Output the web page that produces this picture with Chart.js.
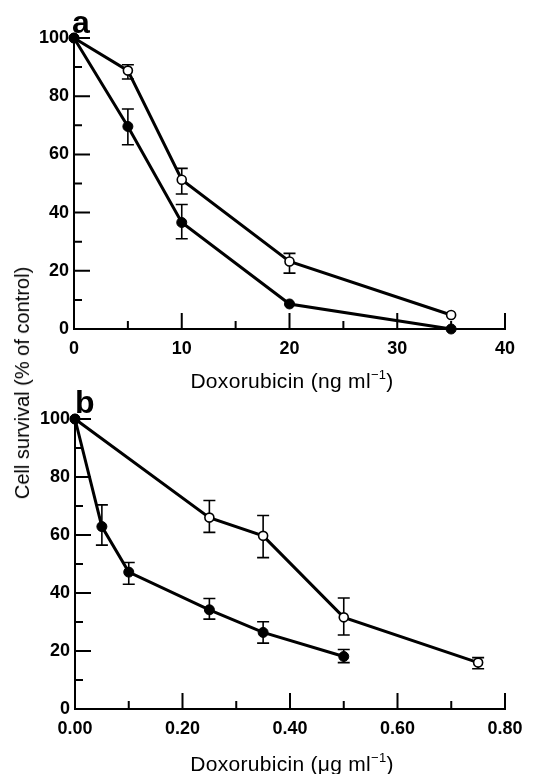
<!DOCTYPE html>
<html>
<head>
<meta charset="utf-8">
<script src="https://cdn.jsdelivr.net/npm/chart.js@4/dist/chart.umd.min.js"></script>
<style>
  html, body { margin: 0; padding: 0; background: #fff; }
  body { width: 545px; height: 774px; position: relative; overflow: hidden; font-family: "Liberation Sans", Arial, sans-serif; color: #000; }
  .panel { position: absolute; left: 0; width: 545px; }
  .lbl { position: absolute; white-space: nowrap; line-height: 1; }
  .letter { font-weight: bold; font-size: 32px; }
  .xt { font-size: 21px; letter-spacing: 0.3px; transform: translateX(-50%); }
  .xt sup { font-size: 13px; vertical-align: 9px; line-height: 0; }
  .yt { font-size: 20px; left: 22px; top: 383px; transform: translate(-50%, -50%) rotate(-90deg); }
</style>
</head>
<body>
<div class="panel" style="top:0;height:390px;"><canvas id="cA" width="545" height="390"></canvas></div>
<div class="panel" style="top:390px;height:384px;"><canvas id="cB" width="545" height="384"></canvas></div>
<div class="lbl letter" style="left:72px;top:6px;">a</div>
<div class="lbl letter" style="left:75px;top:386px;">b</div>
<div class="lbl xt" style="left:292px;top:370px;">Doxorubicin (ng ml<sup>−1</sup>)</div>
<div class="lbl xt" style="left:292px;top:753px;">Doxorubicin (μg ml<sup>−1</sup>)</div>
<div class="lbl yt">Cell survival (% of control)</div>
<script>
// ---------- data ----------
const doseA = [0, 5, 10, 20, 35];
const openA = [100, 88.8, 51.3, 23.2, 4.8];
const openA_lo = [null, 85.9, 46.4, 19.2, null];
const openA_hi = [null, 90.8, 55.2, 26.0, null];
const filledA = [100, 69.6, 36.6, 8.6, 0];
const filledA_lo = [null, 63.3, 31.0, null, null];
const filledA_hi = [null, 75.6, 42.8, null, null];

const doseB_open = [0, 0.25, 0.35, 0.5, 0.75];
const openB = [100, 66.0, 59.7, 31.6, 16.0];
const openB_lo = [null, 60.9, 52.2, 25.5, 13.9];
const openB_hi = [null, 71.9, 66.7, 38.3, 17.7];
const doseB_filled = [0, 0.05, 0.1, 0.25, 0.35, 0.5];
const filledB = [100, 62.9, 47.2, 34.2, 26.4, 18.1];
const filledB_lo = [null, 56.5, 43.0, 31.0, 22.7, 16.0];
const filledB_hi = [null, 70.4, 50.5, 38.1, 30.1, 20.5];

const yTickValues = [0, 20, 40, 60, 80, 100];
const yTickLabels = ['0', '20', '40', '60', '80', '100'];
const xTickValuesA = [0, 10, 20, 30, 40];
const xTickLabelsA = ['0', '10', '20', '30', '40'];
const xTickValuesB = [0, 0.2, 0.4, 0.6, 0.8];
const xTickLabelsB = ['0.00', '0.20', '0.40', '0.60', '0.80'];

// ---------- helpers ----------
function pts(xs, ys) { return xs.map((x, i) => ({ x: x, y: ys[i] })); }
function labelFor(values, labels) {
  return function (v) {
    for (let i = 0; i < values.length; i++) {
      if (Math.abs(values[i] - v) < 1e-6) return labels[i];
    }
    return '';
  };
}

const inTicks = {
  id: 'inTicks',
  beforeDatasetsDraw(chart) {
    const { ctx, chartArea: ca, scales } = chart;
    const x = scales.x, y = scales.y;
    ctx.save();
    ctx.strokeStyle = '#000';
    ctx.lineWidth = 2;
    ctx.beginPath();
    x.ticks.forEach(t => {
      const px = x.getPixelForValue(t.value);
      const len = t.label !== '' ? 16 : 8;
      ctx.moveTo(px, ca.bottom);
      ctx.lineTo(px, ca.bottom - len);
    });
    y.ticks.forEach(t => {
      const py = y.getPixelForValue(t.value);
      const len = t.label !== '' ? 16 : 8;
      ctx.moveTo(ca.left, py);
      ctx.lineTo(ca.left + len, py);
    });
    ctx.stroke();
    ctx.restore();
  }
};

const errorBars = {
  id: 'errorBars',
  beforeDatasetsDraw(chart) {
    const { ctx, scales } = chart;
    const x = scales.x, y = scales.y;
    ctx.save();
    ctx.strokeStyle = '#000';
    ctx.lineWidth = 1.6;
    chart.data.datasets.forEach(ds => {
      if (!ds.errLo) return;
      ds.data.forEach((p, i) => {
        const lo = ds.errLo[i], hi = ds.errHi[i];
        if (lo == null || hi == null) return;
        const px = x.getPixelForValue(p.x);
        const pl = y.getPixelForValue(lo), ph = y.getPixelForValue(hi);
        ctx.beginPath();
        ctx.moveTo(px, pl); ctx.lineTo(px, ph);
        ctx.moveTo(px - 6, pl); ctx.lineTo(px + 6, pl);
        ctx.moveTo(px - 6, ph); ctx.lineTo(px + 6, ph);
        ctx.stroke();
      });
    });
    ctx.restore();
  }
};

Chart.defaults.font.family = '"Liberation Sans", Arial, sans-serif';
Chart.defaults.color = '#000';

function filledDs(data, lo, hi) {
  return {
    data: data, errLo: lo, errHi: hi,
    borderColor: '#000', borderWidth: 3,
    pointRadius: 5, pointBackgroundColor: '#000', pointBorderColor: '#000', pointBorderWidth: 1,
    tension: 0, clip: false, fill: false
  };
}
function openDs(data, lo, hi) {
  return {
    data: data, errLo: lo, errHi: hi,
    borderColor: '#000', borderWidth: 3,
    pointRadius: 4.5, pointBackgroundColor: '#fff', pointBorderColor: '#000', pointBorderWidth: 1.6,
    tension: 0, clip: false, fill: false
  };
}

function makeChart(id, datasets, xMin, xMax, xStep, xVals, xLabels, padTop, yWidth, xHeight) {
  return new Chart(document.getElementById(id), {
    type: 'line',
    data: { datasets: datasets },
    options: {
      responsive: false,
      animation: false,
      devicePixelRatio: 1,
      layout: { padding: { left: 0, right: 40, top: padTop, bottom: 0 } },
      plugins: { legend: { display: false }, tooltip: { enabled: false }, title: { display: false } },
      scales: {
        x: {
          type: 'linear', min: xMin, max: xMax,
          afterFit: s => { s.height = xHeight; },
          grid: { display: false, drawTicks: false },
          border: { display: true, color: '#000', width: 2 },
          ticks: {
            stepSize: xStep, autoSkip: false, maxRotation: 0, padding: 9,
            font: { size: 18, weight: 'bold' }, color: '#000',
            callback: labelFor(xVals, xLabels)
          }
        },
        y: {
          type: 'linear', min: 0, max: 100,
          afterFit: s => { s.width = yWidth; },
          grid: { display: false, drawTicks: false },
          border: { display: true, color: '#000', width: 2 },
          ticks: {
            stepSize: 10, autoSkip: false, padding: 5,
            font: { size: 18, weight: 'bold' }, color: '#000',
            callback: labelFor(yTickValues, yTickLabels)
          }
        }
      }
    },
    plugins: [inTicks, errorBars]
  });
}

makeChart('cA', [
  filledDs(pts(doseA, filledA), filledA_lo, filledA_hi),
  openDs(pts(doseA, openA), openA_lo, openA_hi)
], 0, 40, 5, xTickValuesA, xTickLabelsA, 38, 74, 61);

makeChart('cB', [
  filledDs(pts(doseB_filled, filledB), filledB_lo, filledB_hi),
  openDs(pts(doseB_open, openB), openB_lo, openB_hi)
], 0, 0.8, 0.1, xTickValuesB, xTickLabelsB, 29, 75, 65);
</script>
</body>
</html>
